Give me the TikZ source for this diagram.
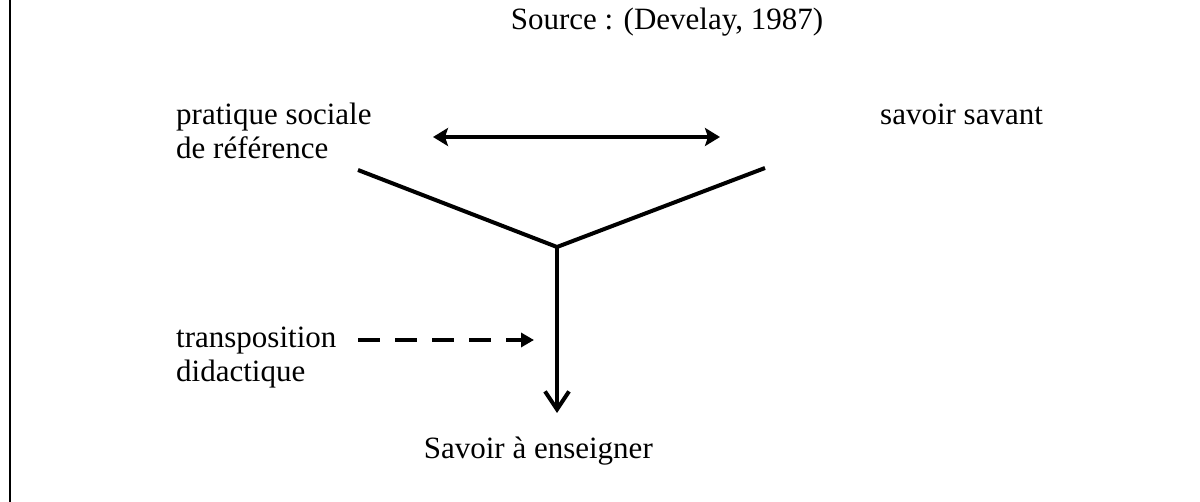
\documentclass[tikz,border=0pt]{standalone}
\usepackage{fontspec}
\setmainfont{Liberation Serif}
\usetikzlibrary{arrows.meta}
\begin{document}
\begin{tikzpicture}[x=1pt,y=-1pt,
  lbl/.style={inner sep=0pt, anchor=base west, align=left, font=\fontsize{31}{34}\selectfont},
  thick4/.style={line width=4pt},
  dbl/.style={thick4, {Stealth[length=15pt,width=18pt,inset=3pt]}-{Stealth[length=15pt,width=18pt,inset=3pt]}},
  downarr/.style={thick4, -{Straight Barb[length=18pt,width=24pt,line width=4pt]}},
  dasharr/.style={thick4, dash pattern=on 22pt off 15pt, -{Triangle[length=13pt,width=14pt]}}
]
\useasboundingbox (0,0) rectangle (1200,502);
\draw[line width=2pt] (9.5,0) -- (9.5,502);
\node[lbl, anchor=base] (src) at (667,30) {Source : (Develay, 1987)};
\node[lbl] (psr) at (176,159) {pratique sociale\\de référence};
\node[lbl] (ss) at (880,125) {savoir savant};
\node[lbl] (td) at (176,382) {transposition\\didactique};
\node[lbl, anchor=base east] (sae) at (653,459) {Savoir à enseigner};
\coordinate (al) at (433,137);
\coordinate (ar) at (720,137);
\coordinate (vl) at (358,170);
\coordinate (vr) at (765,168);
\coordinate (vx) at (557,247);
\coordinate (vd) at (557,413);
\coordinate (ds) at (358,340);
\coordinate (de) at (534,340);
\draw[dbl] (al) -- (ar);
\draw[thick4, line join=miter] (vl) -- (vx) -- (vr);
\draw[downarr] (vx) -- (vd);
\draw[dasharr] (ds) -- (de);
\end{tikzpicture}
\end{document}
